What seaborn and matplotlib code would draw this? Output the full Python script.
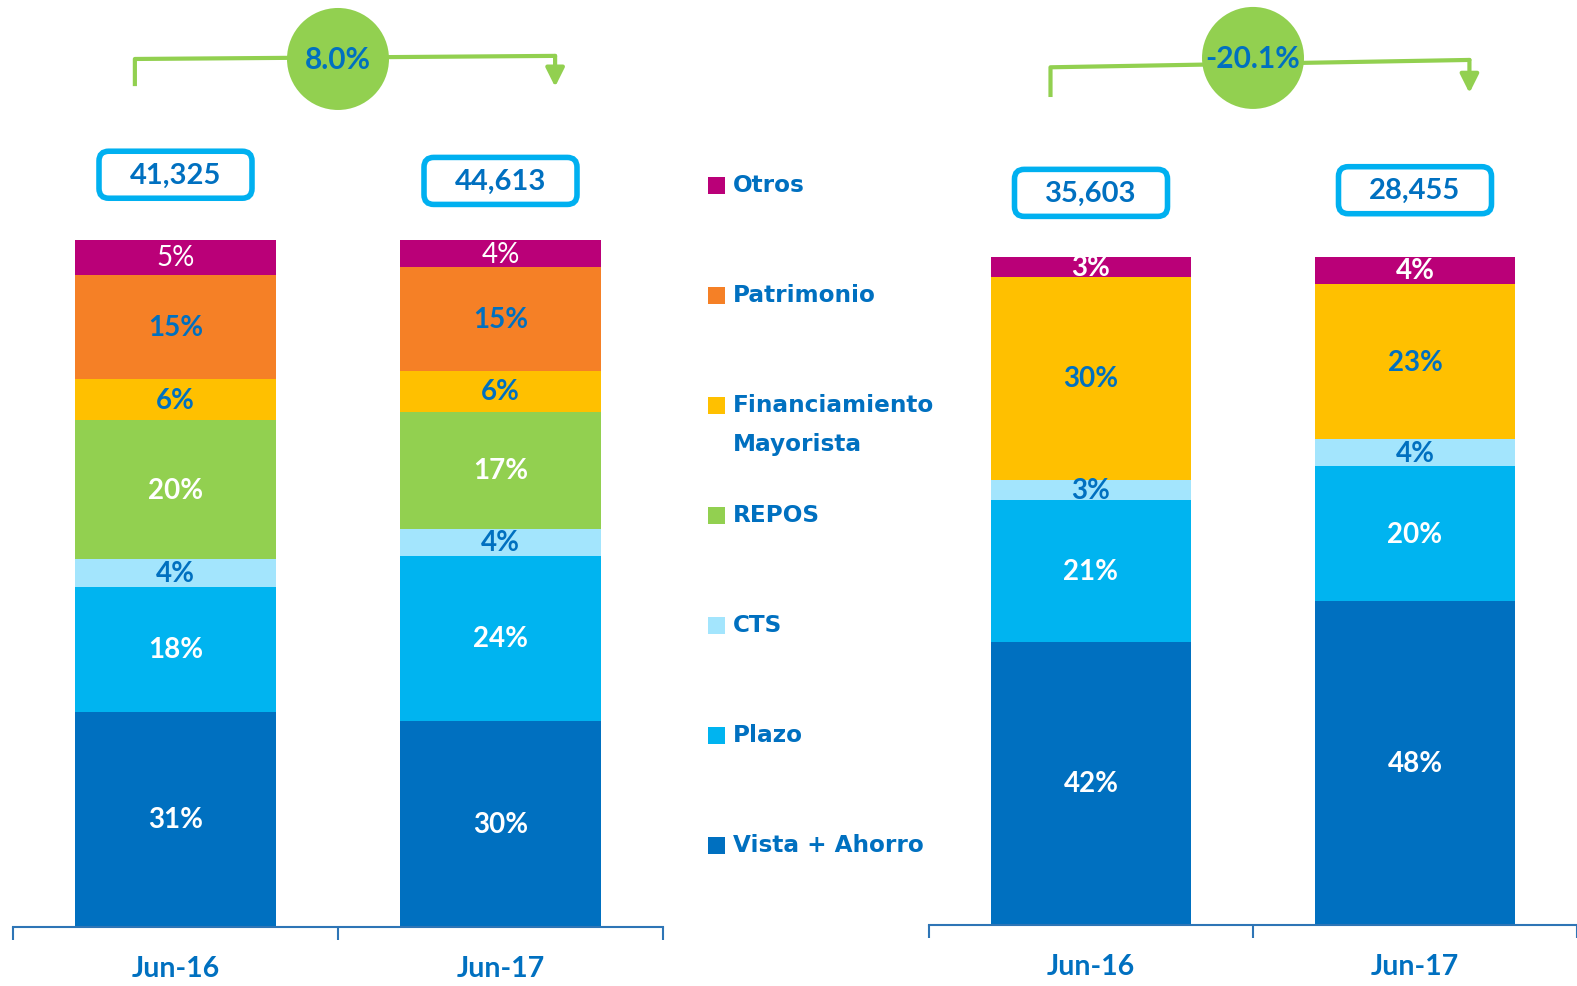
import numpy as np
import pandas as pd
import seaborn as sns
import matplotlib.pyplot as plt
from matplotlib.patches import Ellipse, FancyBboxPatch, Rectangle

# ======================
# Data
# ======================

periods = ["Jun-16", "Jun-17"]

left_segments = ["Vista + Ahorro", "Plazo", "CTS", "REPOS",
                 "Financiamiento\nMayorista", "Patrimonio", "Otros"]
left_jun16 = [31, 18, 4, 20, 6, 15, 5]
left_jun17 = [30, 24, 4, 17, 6, 15, 4]
left_totals = [41325, 44613]

right_segments = ["Vista + Ahorro", "Plazo", "CTS",
                  "Financiamiento\nMayorista", "Otros"]
right_jun16 = [42, 21, 3, 30, 3]
right_jun17 = [48, 20, 4, 23, 4]
right_totals = [35603, 28455]

legend_order = ["Otros", "Patrimonio", "Financiamiento\nMayorista",
                "REPOS", "CTS", "Plazo", "Vista + Ahorro"]

# ======================
# Style
# ======================

colors = {
    "Vista + Ahorro": "#0070C0",
    "Plazo": "#00B4F0",
    "CTS": "#A3E5FD",
    "REPOS": "#92D050",
    "Financiamiento\nMayorista": "#FFC000",
    "Patrimonio": "#F58026",
    "Otros": "#BA0078",
}
dark_text = {"CTS", "Financiamiento\nMayorista", "Patrimonio"}

blue = "#0070C0"
box_blue = "#00B0F0"
green = "#92D050"

sns.set_theme(style="white")
plt.rcParams["font.family"] = ["Lato", "DejaVu Sans"]

W, H = 1577, 987
fig = plt.figure(figsize=(W / 100, H / 100), dpi=100)


def draw_panel(ax, segments, v16, v17, totals, otros_bold,
               box_y, circle_y, bracket_y, px_w, px_h):
    rows = []
    for period, vals in zip(periods, [v16, v17]):
        vals = np.array(vals, dtype=float)
        share = vals / vals.sum()
        top = np.cumsum(share)
        for seg, v, s, t in zip(segments, vals, share, top):
            rows.append([period, seg, v, s, t - s, t])
    df = pd.DataFrame(rows, columns=["period", "segment", "value",
                                     "share", "bottom", "top"])

    # stacked bars: draw cumulative tops, highest first
    for seg in segments[::-1]:
        sub = df[df["segment"] == seg]
        sns.barplot(data=sub, x="period", y="top", order=periods,
                    color=colors[seg], saturation=1, width=0.62,
                    errorbar=None, linewidth=0, ax=ax)

    for _, r in df.iterrows():
        tc = blue if r["segment"] in dark_text else "white"
        fw = "bold"
        if r["segment"] == "Otros" and not otros_bold:
            fw = "normal"
        ax.text(periods.index(r["period"]), r["bottom"] + r["share"] / 2,
                f"{r['value']:.0f}%", ha="center", va="center",
                color=tc, fontsize=20, fontweight=fw)

    ax.set_xlim(-0.5, 1.5)
    ax.set_ylim(0, 1)
    ax.set_xlabel("")
    ax.set_ylabel("")
    ax.set_yticks([])
    for s in ["left", "right", "top"]:
        ax.spines[s].set_visible(False)
    ax.spines["bottom"].set_color("#2E75B6")
    ax.spines["bottom"].set_linewidth(1.5)
    ax.set_xticks([0, 1])
    ax.set_xticklabels(periods, fontsize=20.5, fontweight="bold", color=blue)
    ax.set_xticks([-0.5, 0.5, 1.5], minor=True)
    ax.tick_params(axis="x", which="major", length=0, pad=20)
    ax.tick_params(axis="x", which="minor", length=9, width=1.5,
                   color="#2E75B6", direction="out", bottom=True)

    # total boxes
    bw, bh = 153 * px_w, 47 * px_h
    for i, (tot, by) in enumerate(zip(totals, box_y)):
        box = FancyBboxPatch((i - bw / 2, by - bh / 2), bw, bh,
                             boxstyle="round,pad=0,rounding_size=0.03",
                             mutation_aspect=px_h / px_w,
                             facecolor="white", edgecolor=box_blue,
                             linewidth=4, clip_on=False)
        ax.add_patch(box)
        ax.text(i, by, f"{tot:,}", ha="center", va="center",
                fontsize=21, fontweight="bold", color=blue, clip_on=False)

    # growth bracket
    growth = (totals[1] / totals[0] - 1) * 100
    y0, y1, y2, y3 = bracket_y
    xs, xe = -0.125, 1.168
    ax.plot([xs, xs, xe, xe], [y0, y1, y2, y2 - 0.001], color=green,
            lw=3, clip_on=False, zorder=3, solid_capstyle="butt")
    ax.annotate("", xy=(xe, y3), xytext=(xe, y2),
                arrowprops=dict(arrowstyle="-|>", color=green, lw=3,
                                mutation_scale=28, shrinkA=0, shrinkB=0),
                annotation_clip=False, zorder=3)
    circ = Ellipse((0.5, circle_y), 102 * px_w, 102 * px_h,
                   facecolor=green, edgecolor="none", clip_on=False,
                   zorder=4)
    ax.add_patch(circ)
    ax.text(0.5, circle_y, f"{growth:.1f}%", ha="center", va="center",
            fontsize=21.5, fontweight="bold", color=blue, zorder=5,
            clip_on=False)


# left panel: x 13..663 px, bars 241..928 px
axL = fig.add_axes([13 / W, (H - 928) / H, 650 / W, 687 / H])
draw_panel(axL, left_segments, left_jun16, left_jun17, left_totals,
           otros_bold=False,
           box_y=[1.095, 1.086], circle_y=1.2635,
           bracket_y=[1.224, 1.2635, 1.268, 1.223],
           px_w=2 / 650, px_h=1 / 687)

# right panel: x 929..1577 px, bars 258..926 px
axR = fig.add_axes([929 / W, (H - 926) / H, 648 / W, 668 / H])
draw_panel(axR, right_segments, right_jun16, right_jun17, right_totals,
           otros_bold=True,
           box_y=[1.096, 1.100], circle_y=1.298,
           bracket_y=[1.2395, 1.284, 1.295, 1.2455],
           px_w=2 / 648, px_h=1 / 668)

# legend in the middle
for k, name in enumerate(legend_order):
    yc = 186 + 110 * k
    fig.patches.append(Rectangle((708 / W, (H - yc - 8.5) / H), 17 / W,
                                 17 / H, transform=fig.transFigure,
                                 facecolor=colors[name], edgecolor="none"))
    for j, line in enumerate(name.split("\n")):
        fig.text(733 / W, (H - yc - 39 * j) / H, line, ha="left",
                 va="center", fontsize=16.7, fontweight="bold",
                 color=blue, family=["DejaVu Sans"])

fig.savefig("out.png", dpi=100)
